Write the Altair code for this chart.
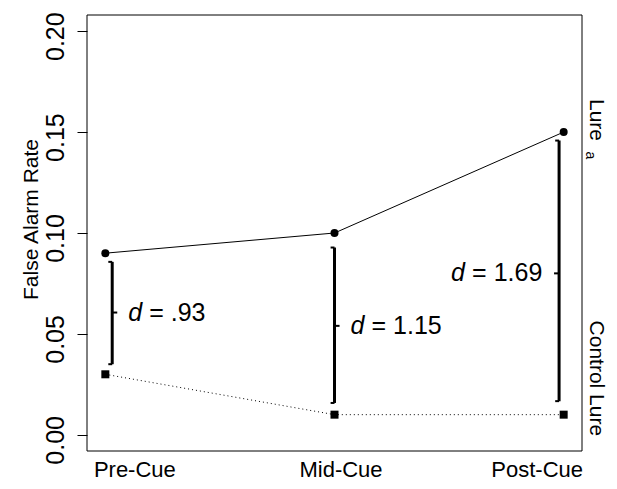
import altair as alt
import pandas as pd

# ---- data ----
conditions = ["Pre-Cue", "Mid-Cue", "Post-Cue"]
lure_a = [0.09, 0.10, 0.15]
control = [0.03, 0.01, 0.01]
d_labels = [".93", "1.15", "1.69"]
bracket_x = [1.03, 2.0, 2.98]
bracket_top = [0.0857, 0.0928, 0.1458]
bracket_bottom = [0.035, 0.0158, 0.0167]
bracket_mid = [0.0606, 0.054, 0.08]
y_ticks = [0.0, 0.05, 0.10, 0.15, 0.20]

FONT = "Liberation Sans"
W, H = 495, 436

df = pd.DataFrame({"idx": [1, 2, 3], "cond": conditions, "lure": lure_a, "control": control})
br = pd.DataFrame({"idx": [1, 2, 3], "bx": bracket_x, "top": bracket_top,
                   "bottom": bracket_bottom, "mid": bracket_mid, "d": d_labels})
one = pd.DataFrame({"k": [0]})

label_expr = " : ".join(
    [f"datum.value == {i + 1} ? '{c}'" for i, c in enumerate(conditions[:-1])]
) + f" : '{conditions[-1]}'"

xscale = alt.Scale(domain=[0.92, 3.08], nice=False, zero=False)
yscale = alt.Scale(domain=[-0.008, 0.208], nice=False, zero=False)

x_axis = alt.Axis(
    values=[1, 2, 3], labelExpr=label_expr, ticks=False, domain=False, grid=False,
    labelFontSize=22, labelPadding=25, labelBaseline="alphabetic", labelFont=FONT,
    labelColor="black", labelOverlap=False, labelFlush=False,
    labelOffset={"condition": [{"test": "datum.value == 1", "value": 29},
                               {"test": "datum.value == 3", "value": -27}], "value": 6},
    title=None,
)
y_axis = alt.Axis(
    values=y_ticks, format=".2f", tickSize=10, tickColor="black", tickWidth=1,
    domain=False, grid=False, labelAngle=270, labelAlign="center", labelOffset=5,
    labelBaseline="alphabetic", labelPadding=14, labelFontSize=25, labelFont=FONT,
    labelColor="black", labelOverlap=False, labelFlush=False,
    title="False Alarm Rate", titleFontSize=21, titleFont=FONT, titleFontWeight="normal",
    titleColor="black", titleAngle=270, titleAlign="center", titleBaseline="alphabetic",
    titleX=-50, titleY=204,
)

base = alt.Chart(df)

lure_line = base.mark_line(color="black", strokeWidth=1).encode(
    x=alt.X("idx:Q", scale=xscale, axis=x_axis),
    y=alt.Y("lure:Q", scale=yscale, axis=y_axis),
)
lure_pts = base.mark_point(shape="circle", filled=True, color="black", size=64, opacity=1).encode(
    x=alt.X("idx:Q", scale=xscale), y=alt.Y("lure:Q", scale=yscale))
ctrl_line = base.mark_line(color="black", strokeWidth=1, strokeDash=[1, 3]).encode(
    x=alt.X("idx:Q", scale=xscale), y=alt.Y("control:Q", scale=yscale))
ctrl_pts = base.mark_point(shape="square", filled=True, color="black", size=64, opacity=1).encode(
    x=alt.X("idx:Q", scale=xscale), y=alt.Y("control:Q", scale=yscale))

# plot frame
frame = alt.Chart(one).mark_rect(fill=None, stroke="black", strokeWidth=1).encode(
    x=alt.value(0), x2=alt.value(W), y=alt.value(0), y2=alt.value(H))

bbase = alt.Chart(br)
vert = bbase.mark_rule(color="black", strokeWidth=3).encode(
    x=alt.X("bx:Q", scale=xscale), y=alt.Y("top:Q", scale=yscale), y2="bottom:Q")
hook_top = bbase.transform_calculate(hx="datum.bx - 0.017").mark_rule(color="black", strokeWidth=2).encode(
    x=alt.X("bx:Q", scale=xscale), x2="hx:Q", y=alt.Y("top:Q", scale=yscale))
hook_bot = bbase.transform_calculate(hx="datum.bx - 0.017").mark_rule(color="black", strokeWidth=2).encode(
    x=alt.X("bx:Q", scale=xscale), x2="hx:Q", y=alt.Y("bottom:Q", scale=yscale))
nub = bbase.transform_calculate(nx="datum.bx + (datum.idx == 3 ? -0.022 : 0.022)").mark_rule(
    color="black", strokeWidth=2).encode(
    x=alt.X("bx:Q", scale=xscale), x2="nx:Q", y=alt.Y("mid:Q", scale=yscale))

left_lab = bbase.transform_filter("datum.idx < 3")
right_lab = bbase.transform_filter("datum.idx == 3")
txt = dict(font=FONT, fontSize=25, color="black", baseline="middle", align="left")
d_left = left_lab.mark_text(fontStyle="italic", dx=16, **txt).encode(
    x=alt.X("bx:Q", scale=xscale), y=alt.Y("mid:Q", scale=yscale), text=alt.value("d"))
eq_left = left_lab.transform_calculate(t="'= ' + datum.d").mark_text(dx=37, **txt).encode(
    x=alt.X("bx:Q", scale=xscale), y=alt.Y("mid:Q", scale=yscale), text="t:N")
d_right = right_lab.mark_text(fontStyle="italic", dx=-108, **txt).encode(
    x=alt.X("bx:Q", scale=xscale), y=alt.Y("mid:Q", scale=yscale), text=alt.value("d"))
eq_right = right_lab.transform_calculate(t="'= ' + datum.d").mark_text(dx=-87, **txt).encode(
    x=alt.X("bx:Q", scale=xscale), y=alt.Y("mid:Q", scale=yscale), text="t:N")

side = dict(font=FONT, color="black", angle=90, align="center", baseline="alphabetic",
            fontWeight="normal")
lure_lab = alt.Chart(one).mark_text(fontSize=21, **side).encode(
    x=alt.value(W + 8), y=alt.datum(0.156, scale=yscale), text=alt.value("Lure"))
lure_sub = alt.Chart(one).mark_text(fontSize=14, **side).encode(
    x=alt.value(W + 4), y=alt.datum(0.1385, scale=yscale), text=alt.value("a"))
ctrl_lab = alt.Chart(one).mark_text(fontSize=21, **side).encode(
    x=alt.value(W + 8), y=alt.datum(0.028, scale=yscale), text=alt.value("Control Lure"))

chart = alt.layer(
    frame, lure_line, ctrl_line, lure_pts, ctrl_pts, vert, hook_top, hook_bot, nub,
    d_left, eq_left, d_right, eq_right, lure_lab, lure_sub, ctrl_lab,
).properties(
    width=W, height=H,
    autosize=alt.AutoSizeParams(type="none"),
    padding={"left": 79, "top": 7, "right": 27, "bottom": 30},
    background="white",
).configure_view(stroke=None)

chart.save("out.html", embed_options={"renderer": "svg", "actions": False})
